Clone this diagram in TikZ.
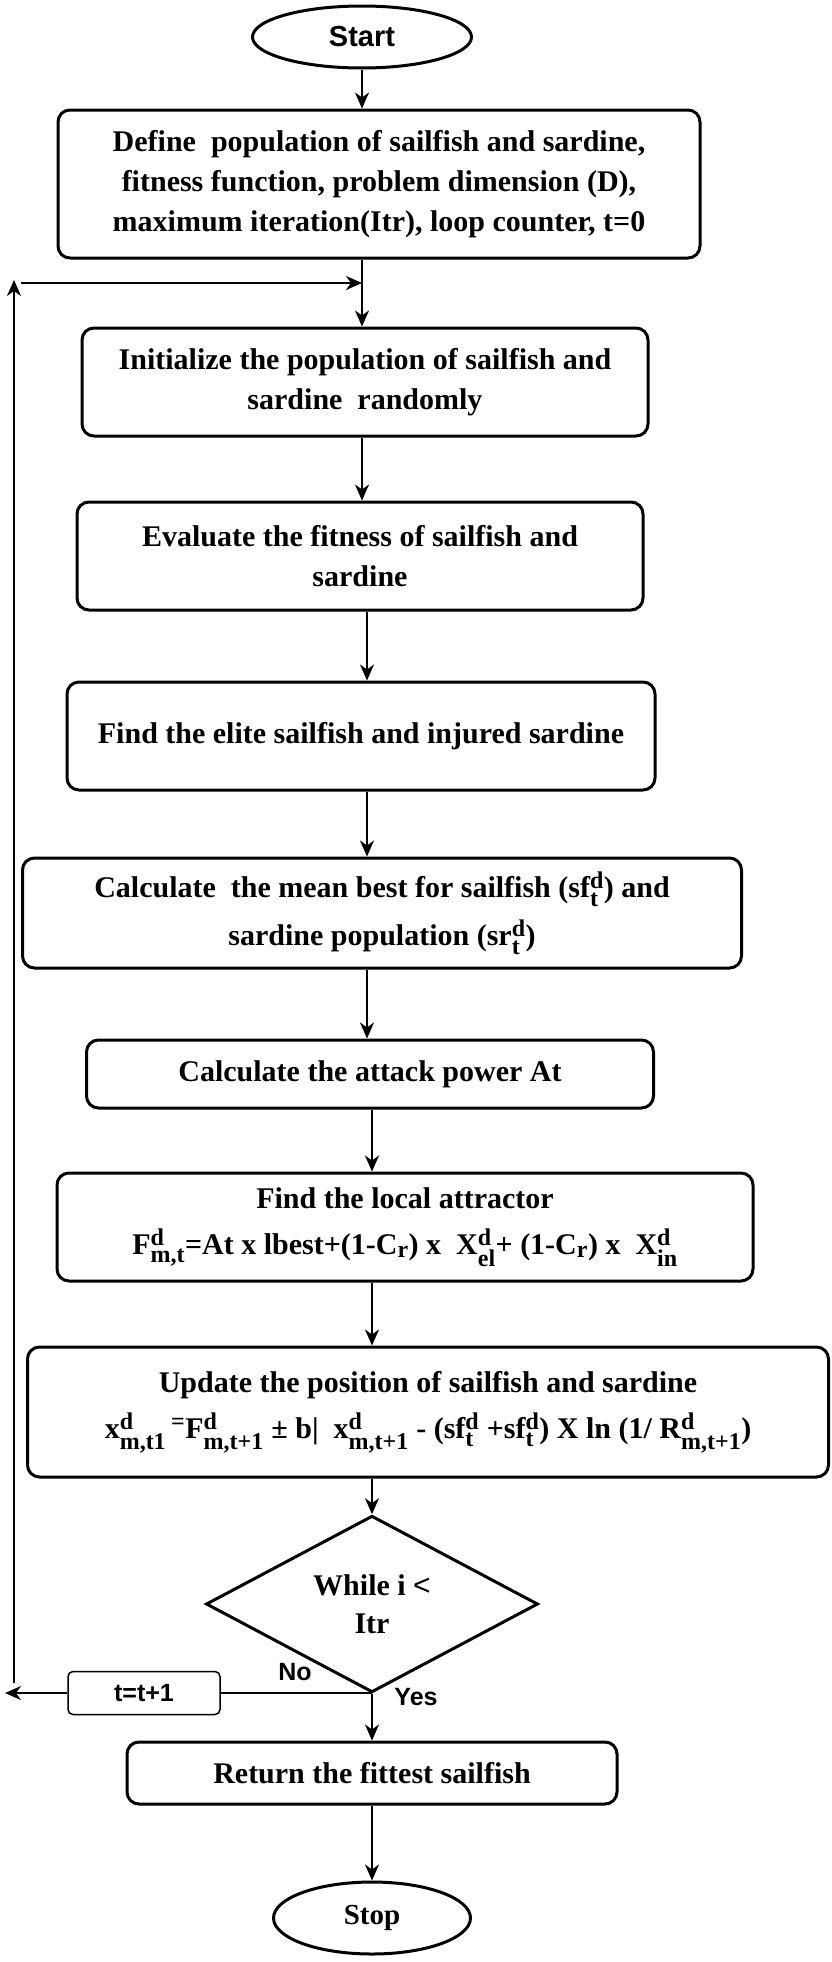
\documentclass[tikz,border=0pt]{standalone}
\usepackage{amsmath}
\usepackage{fontspec}
\setmainfont{Liberation Serif}
\newfontfamily\arialfont{Liberation Sans}
\usetikzlibrary{arrows.meta, shapes.geometric}
\DeclareMathSizes{30}{30}{24}{20}

\begin{document}
\begin{tikzpicture}[x=1pt, y=-1pt,
    proc/.style={draw, line width=3pt, rounded corners=12pt, align=center, inner sep=0pt,
        font=\bfseries\fontsize{30}{40}\selectfont},
    term/.style={draw, ellipse, line width=3pt, inner sep=0pt},
    decision/.style={draw, diamond, line width=3pt, inner sep=0pt, minimum width=332pt,
        minimum height=118pt, align=center, font=\bfseries\fontsize{30}{38}\selectfont},
    incbox/.style={draw, line width=1.5pt, rounded corners=5pt, inner sep=0pt,
        minimum width=152pt, minimum height=43pt, font=\arialfont\bfseries\fontsize{25}{30}\selectfont},
    lbl/.style={font=\arialfont\bfseries\fontsize{25}{30}\selectfont},
    flow/.style={line width=2pt, -{Stealth[length=16pt, width=14pt, inset=5pt]}}
]
\useasboundingbox (0,0) rectangle (832,1962);
% Spine
\coordinate (spineA) at (362,0);
\coordinate (spineB) at (367,0);
\coordinate (spineC) at (372,0);
% Terminals
\node[term, minimum width=219pt, minimum height=62pt, font=\arialfont\bfseries\fontsize{29}{34}\selectfont] (start) at (362,37) {Start};
\node[term, minimum width=197pt, minimum height=72pt, font=\bfseries\fontsize{29}{34}\selectfont] (stop) at (372,1918) {Stop};
% Process boxes
\node[proc, minimum width=642pt, minimum height=148pt] (def) at (379,184)
    {Define\ \ population of sailfish and sardine,\\ fitness function, problem dimension (D),\\ maximum iteration(Itr), loop counter, t=0};
\node[proc, minimum width=566pt, minimum height=108pt] (init) at (365,382)
    {Initialize the population of sailfish and\\ sardine\ \ randomly};
\node[proc, minimum width=566pt, minimum height=108pt] (eval) at (360,556)
    {Evaluate the fitness of sailfish and\\ sardine};
\node[proc, minimum width=588pt, minimum height=108pt] (elite) at (361,736)
    {Find the elite sailfish and injured sardine};
\node[proc, minimum width=719pt, minimum height=110pt] (mean) at (382,913)
    {Calculate\ \ the mean best for sailfish (sf$_{\text{t}}^{\text{d}}$) and\\[8pt] sardine population (sr$_{\text{t}}^{\text{d}}$)};
\node[proc, minimum width=567pt, minimum height=68pt] (attack) at (370,1074)
    {Calculate the attack power At};
\node[proc, minimum width=696pt, minimum height=108pt] (local) at (405,1227)
    {Find the local attractor\\[6pt] F$_{\text{m,t}}^{\text{d}}$=At x lbest+(1-C$_{\text{r}}$) x\ \ X$_{\text{el}}^{\text{d}}$+ (1-C$_{\text{r}}$) x\ \ X$_{\text{in}}^{\text{d}}$};
\node[proc, minimum width=801pt, minimum height=130pt] (update) at (428,1412)
    {Update the position of sailfish and sardine\\[6pt] x$^{\text{d}}_{\text{m,t1}}$\,$^{\text{=}}$F$^{\text{d}}_{\text{m,t+1}}$ ± b|\ \ x$^{\text{d}}_{\text{m,t+1}}$ - (sf$_{\text{t}}^{\text{d}}$ +sf$_{\text{t}}^{\text{d}}$) X ln (1/ R$^{\text{d}}_{\text{m,t+1}}$)};
\node[decision] (cond) at (372,1604) {While i {\arialfont\mdseries <}\\Itr};
\node[proc, minimum width=490pt, minimum height=62pt] (ret) at (372,1773)
    {Return the fittest sailfish};
\node[incbox] (tinc) at (144,1693) {t=t+1};
% Labels
\node[lbl] (nolbl) at (295,1672) {No};
\node[lbl] (yeslbl) at (416,1697) {Yes};
% Main arrows
\draw[flow] (start.south -| spineA) -- (def.north -| spineA);
\draw[flow] (def.south -| spineA) -- (init.north -| spineA);
\draw[flow] (init.south -| spineA) -- (eval.north -| spineA);
\draw[flow] (eval.south -| spineB) -- (elite.north -| spineB);
\draw[flow] (elite.south -| spineB) -- (mean.north -| spineB);
\draw[flow] (mean.south -| spineB) -- (attack.north -| spineB);
\draw[flow] (attack.south -| spineC) -- (local.north -| spineC);
\draw[flow] (local.south -| spineC) -- (update.north -| spineC);
\draw[flow] (update.south -| spineC) -- (cond.north);
\draw[flow] (cond.south) -- (ret.north);
\draw[flow] (ret.south) -- (stop.north);
% Loop back
\coordinate (loopend) at (5,1693);
\coordinate (loopbot) at (14,1683);
\coordinate (looptop) at (14,280);
\coordinate (loopin) at (21,283);
\draw[line width=2pt] (cond.south |- tinc.east) -- (tinc.east);
\draw[flow] (tinc.west) -- (loopend);
\draw[flow] (loopbot) -- (looptop);
\draw[flow] (loopin) -- (loopin -| spineA);
\end{tikzpicture}
\end{document}
